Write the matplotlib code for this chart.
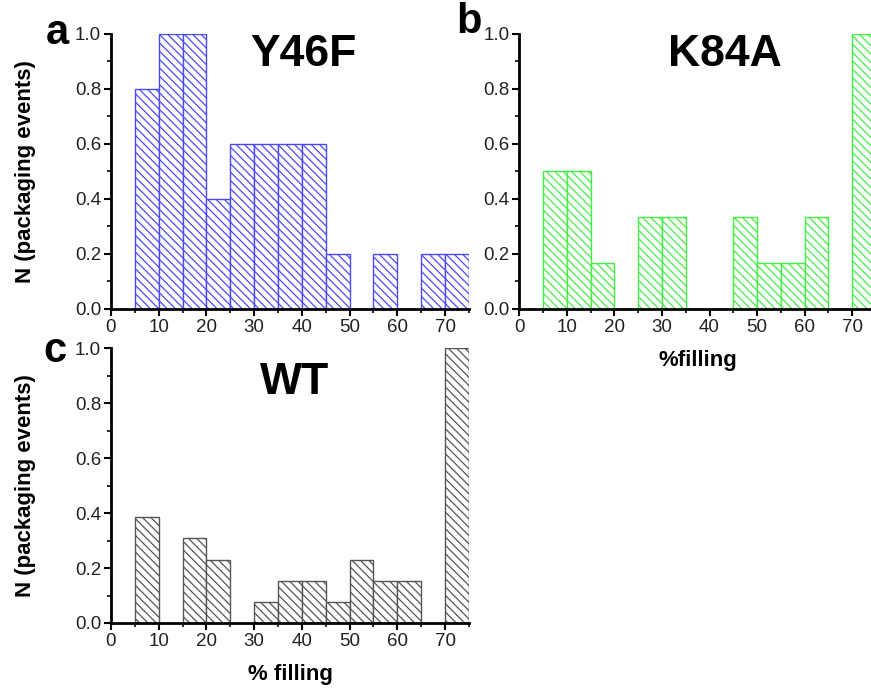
import matplotlib
matplotlib.use("Agg")
import matplotlib.pyplot as plt
from matplotlib.ticker import MultipleLocator

plt.rcParams["font.family"] = ["Liberation Sans", "DejaVu Sans"]
plt.rcParams["hatch.linewidth"] = 0.9

# bin left edges, % filling (bin width 5)
bins = [5, 10, 15, 20, 25, 30, 35, 40, 45, 50, 55, 60, 65, 70]

y46f = [0.8, 1.0, 1.0, 0.4, 0.6, 0.6, 0.6, 0.6, 0.2, 0.0, 0.2, 0.0, 0.2, 0.2]
k84a = [0.5, 0.5, 0.167, 0.0, 0.333, 0.333, 0.0, 0.0, 0.333, 0.167, 0.167, 0.333, 0.0, 1.0]
wt = [0.385, 0.0, 0.308, 0.231, 0.0, 0.077, 0.154, 0.154, 0.077, 0.231, 0.154, 0.154, 0.0, 1.0]

fig = plt.figure(figsize=(8.71, 6.88), dpi=100)

ax_a = fig.add_axes([0.1274, 0.5509, 0.4110, 0.3997])
ax_b = fig.add_axes([0.5962, 0.5509, 0.4095, 0.3997])
ax_c = fig.add_axes([0.1274, 0.0945, 0.4110, 0.3993])


def panel(ax, vals, color):
    for x, v in zip(bins, vals):
        if v > 0:
            ax.bar(x, v, width=5, align="edge", facecolor="white",
                   edgecolor=color, hatch="\\\\\\\\", linewidth=1.0)
    ax.set_xlim(0, 75)
    ax.set_ylim(0, 1.0)
    ax.xaxis.set_major_locator(MultipleLocator(10))
    ax.xaxis.set_minor_locator(MultipleLocator(5))
    ax.yaxis.set_major_locator(MultipleLocator(0.2))
    ax.yaxis.set_minor_locator(MultipleLocator(0.1))
    ax.set_yticklabels([f"{t:.1f}" for t in ax.get_yticks()])
    for s in ("top", "right"):
        ax.spines[s].set_visible(False)
    for s in ("left", "bottom"):
        ax.spines[s].set_linewidth(2)
    ax.tick_params(which="major", direction="out", length=5, width=1.5,
                   labelsize=13.5, labelcolor="#222222", pad=2)
    ax.tick_params(which="minor", direction="out", length=3, width=1.2)


panel(ax_a, y46f, "#4a4aff")
panel(ax_b, k84a, "#44ee44")
panel(ax_c, wt, "#555555")

for ax in (ax_a, ax_c):
    ax.set_ylabel("N (packaging events)", fontsize=16, fontweight="bold")
    ax.yaxis.set_label_coords(-0.21, 0.5)
ax_b.set_xlabel("%filling", fontsize=16, fontweight="bold", labelpad=10)
ax_c.set_xlabel("% filling", fontsize=16, fontweight="bold", labelpad=10)

# panel titles
fig.text(303 / 871, 1 - 54 / 688, "Y46F", fontsize=32, fontweight="bold", ha="center", va="center")
fig.text(725 / 871, 1 - 54 / 688, "K84A", fontsize=32, fontweight="bold", ha="center", va="center")
fig.text(295 / 871, 1 - 382 / 688, "WT", fontsize=32, fontweight="bold", ha="center", va="center")

# panel letters
fig.text(57 / 871, 1 - 33 / 688, "a", fontsize=30, fontweight="bold", ha="center", va="center")
fig.text(469 / 871, 1 - 22 / 688, "b", fontsize=30, fontweight="bold", ha="center", va="center")
fig.text(55 / 871, 1 - 351 / 688, "c", fontsize=30, fontweight="bold", ha="center", va="center")

fig.savefig("out.png", dpi=100)
